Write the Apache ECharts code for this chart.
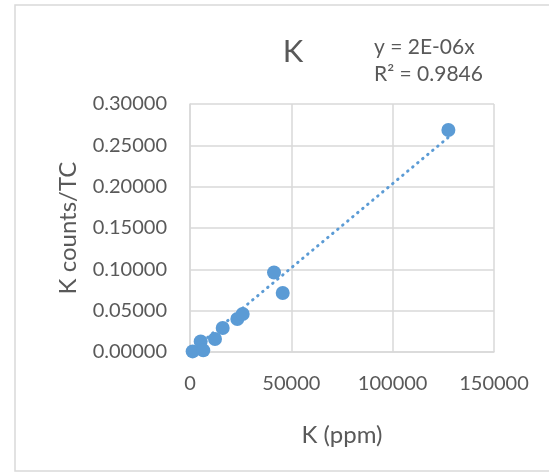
<!DOCTYPE html>
<html>
<head>
<meta charset="utf-8">
<script src="https://cdn.jsdelivr.net/npm/echarts@6/dist/echarts.min.js"></script>
<style>
html,body{margin:0;padding:0;background:#fff;}
#chart{width:549px;height:473px;}
</style>
</head>
<body>
<div id="chart"></div>
<script>
// Data
var kPpm =        [1300, 5270, 6560, 12340, 16130, 23350, 26000, 41460, 45750, 127500];
var kCountsTC =   [0.0007, 0.0128, 0.0020, 0.0157, 0.0290, 0.0399, 0.0459, 0.0961, 0.0713, 0.2685];
var xTicks = [0, 50000, 100000, 150000];
var yTicks = [0, 0.05, 0.10, 0.15, 0.20, 0.25, 0.30];
var titleText = 'K';
var eqText = 'y = 2E-06x';
var r2Text = 'R² = 0.9846';

var points = kPpm.map(function (x, i) { return [x, kCountsTC[i]]; });
// least squares through origin (trendline with intercept 0)
var sxy = 0, sxx = 0;
for (var i = 0; i < kPpm.length; i++) { sxy += kPpm[i] * kCountsTC[i]; sxx += kPpm[i] * kPpm[i]; }
var slope = sxy / sxx;
var xmin = Math.min.apply(null, kPpm), xmax = Math.max.apply(null, kPpm);
var trend = [[xmin, slope * xmin], [xmax, slope * xmax]];

var FONT = 'Lato';
var TXT = '#595959';
var chart = echarts.init(document.getElementById('chart'));
chart.setOption({
  animation: false,
  backgroundColor: '#fff',
  textStyle: { fontFamily: FONT },
  title: {
    text: titleText, left: 288, top: 31, textAlign: 'center',
    textStyle: { fontFamily: FONT, fontSize: 31, fontWeight: 'normal', color: TXT }
  },
  graphic: [
    { type: 'rect', silent: true, z: -10,
      shape: { x: 15, y: 5, width: 560, height: 466 },
      style: { fill: 'none', stroke: '#d9d9d9', lineWidth: 1.5 } },
    { type: 'text', left: 374, top: 37,
      style: { text: eqText, font: '21px ' + FONT, fill: TXT } },
    { type: 'text', left: 374, top: 64,
      style: { text: r2Text, font: '21px ' + FONT, fill: TXT } }
  ],
  grid: { left: 190, right: 55, top: 104, bottom: 121, containLabel: false },
  xAxis: {
    type: 'value', min: xTicks[0], max: xTicks[xTicks.length - 1], interval: 50000,
    name: 'K (ppm)', nameLocation: 'middle', nameGap: 71,
    nameTextStyle: { fontFamily: FONT, fontSize: 24, color: TXT },
    axisLine: { show: true, lineStyle: { color: '#d9d9d9', width: 1.5 } },
    axisTick: { show: false },
    axisLabel: { fontFamily: FONT, fontSize: 20, color: TXT, margin: 22,
      formatter: function (v) { return String(v); } },
    splitLine: { show: true, lineStyle: { color: '#d9d9d9', width: 1.5 } }
  },
  yAxis: {
    type: 'value', min: yTicks[0], max: yTicks[yTicks.length - 1], interval: 0.05,
    name: 'K counts/TC', nameLocation: 'middle', nameGap: 110,
    nameTextStyle: { fontFamily: FONT, fontSize: 24, color: TXT },
    axisLine: { show: true, lineStyle: { color: '#d9d9d9', width: 1.5 } },
    axisTick: { show: false },
    axisLabel: { fontFamily: FONT, fontSize: 20, color: TXT, margin: 23,
      formatter: function (v) { return v.toFixed(5); } },
    splitLine: { show: true, lineStyle: { color: '#d9d9d9', width: 1.5 } }
  },
  series: [
    { type: 'line', data: trend, symbol: 'none', z: 1,
      lineStyle: { color: '#5B9BD5', width: 3, type: [0.5, 6], cap: 'round' } },
    { type: 'scatter', data: points, symbolSize: 14, z: 2,
      itemStyle: { color: '#5B9BD5', opacity: 1 } }
  ]
});
</script>
</body>
</html>
